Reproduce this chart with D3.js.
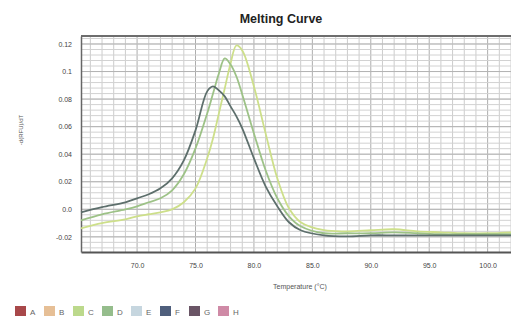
<!DOCTYPE html>
<html>
<head>
<meta charset="utf-8">
<script src="https://cdn.jsdelivr.net/npm/d3@7"></script>
<style>
  body { margin: 0; background: #fff; }
  svg { display: block; font-family: "Liberation Sans", Arial, sans-serif; }
</style>
</head>
<body>
<div id="chart"></div>
<script>
// Melting curve, -d(RFU)/dT against temperature
const temps = [65.2, 67, 69, 70, 71, 72, 73, 74, 75, 76, 76.5, 77, 77.5, 78, 78.5,
  79, 80, 81, 82, 83, 84, 86, 88, 90, 92, 94, 96, 98, 100, 102];

const wellC = [-0.0138, -0.0101, -0.0073, -0.0051, -0.0036, -0.0022, 0.0, 0.0051, 0.0152, 0.037,
  0.0515, 0.0696, 0.0877, 0.1059, 0.1189, 0.1153, 0.0892, 0.0551, 0.0225, 0.0007,
  -0.0094, -0.0152, -0.016, -0.0152, -0.0145, -0.016, -0.0167, -0.0174, -0.0174, -0.0167];

const wellD = [-0.008, -0.0036, 0.0, 0.0022, 0.0051, 0.008, 0.0138, 0.0254, 0.0442, 0.0696,
  0.0841, 0.0986, 0.1095, 0.1051, 0.0964, 0.0834, 0.0551, 0.0283, 0.008, -0.0051,
  -0.0123, -0.0174, -0.0174, -0.0174, -0.0167, -0.0174, -0.0181, -0.0181, -0.0181, -0.0181];

const wellG = [-0.0022, 0.0015, 0.0051, 0.008, 0.0109, 0.0152, 0.0225, 0.0355, 0.0573, 0.0856,
  0.0892, 0.0863, 0.082, 0.0747, 0.0675, 0.0588, 0.037, 0.0167, 0.0022, -0.0094,
  -0.0152, -0.0189, -0.0196, -0.0189, -0.0189, -0.0189, -0.0189, -0.0189, -0.0189, -0.0189];

const xTicks = [70, 75, 80, 85, 90, 95, 100];
const xTickLabels = ["70.0", "75.0", "80.0", "85.0", "90.0", "95.0", "100.0"];
const yTicks = [-0.02, 0.0, 0.02, 0.04, 0.06, 0.08, 0.1, 0.12];
const yTickLabels = ["-0.02", "0.0", "0.02", "0.04", "0.06", "0.08", "0.1", "0.12"];

const legendNames = ["A", "B", "C", "D", "E", "F", "G", "H"];
const legendColors = ["#a8484a", "#e6bf96", "#bcd98c", "#95bd8c", "#c6d6df", "#4f5f7c", "#6a5566", "#cf8aa6"];

const series = [
  { name: "C", values: wellC, color: "#cddf8a" },
  { name: "D", values: wellD, color: "#9dc287" },
  { name: "G", values: wellG, color: "#5d6f6c" }
];

const W = 511, H = 320;
const margin = { top: 36, right: 0, bottom: 68, left: 81 };
const innerW = W - margin.left - margin.right;
const innerH = H - margin.top - margin.bottom;

const svg = d3.select("#chart").append("svg")
  .attr("width", W)
  .attr("height", H);

const x = d3.scaleLinear().domain([65.2, 102]).range([0, innerW]);
const y = d3.scaleLinear().domain([-0.031, 0.1258]).range([innerH, 0]);

const g = svg.append("g").attr("transform", `translate(${margin.left},${margin.top})`);

// minor grid: 1 degree and 0.004 steps
const xMinor = d3.range(66, 103, 1);
const yMinor = d3.range(-0.028, 0.126, 0.004);

g.append("g").selectAll("line").data(xMinor).join("line")
  .attr("x1", d => x(d)).attr("x2", d => x(d))
  .attr("y1", 0).attr("y2", innerH)
  .attr("stroke", d => d % 5 === 0 ? "#adadad" : "#cccccc")
  .attr("stroke-width", 1);

g.append("g").selectAll("line").data(yMinor).join("line")
  .attr("x1", 0).attr("x2", innerW)
  .attr("y1", d => y(d)).attr("y2", d => y(d))
  .attr("stroke", "#d2d2d2")
  .attr("stroke-width", 1);

g.append("g").selectAll("line").data(yTicks).join("line")
  .attr("x1", 0).attr("x2", innerW)
  .attr("y1", d => y(d)).attr("y2", d => y(d))
  .attr("stroke", "#b3b3b3")
  .attr("stroke-width", 1);

// frame
g.append("line").attr("x1", 0).attr("x2", innerW).attr("y1", 0).attr("y2", 0)
  .attr("stroke", "#6d6d6d").attr("stroke-width", 2);

// axes
const xAxis = g.append("g")
  .attr("transform", `translate(0,${innerH})`)
  .call(d3.axisBottom(x).tickValues(xTicks).tickSize(0).tickPadding(11)
    .tickFormat((d, i) => xTickLabels[i]));
xAxis.select(".domain").attr("stroke", "#555").attr("stroke-width", 2);
xAxis.selectAll("text").attr("font-size", 7).attr("fill", "#444");

const yAxis = g.append("g")
  .call(d3.axisLeft(y).tickValues(yTicks).tickSize(0).tickPadding(9)
    .tickFormat((d, i) => yTickLabels[i]));
yAxis.select(".domain").attr("stroke", "#666").attr("stroke-width", 1.5);
yAxis.selectAll("text").attr("font-size", 7).attr("fill", "#444");

// curves
const line = d3.line()
  .x((d, i) => x(temps[i]))
  .y(d => y(d))
  .curve(d3.curveCatmullRom);

g.append("g").selectAll("path").data(series).join("path")
  .attr("d", d => line(d.values))
  .attr("fill", "none")
  .attr("stroke", d => d.color)
  .attr("stroke-width", 1.8);

// titles
svg.append("text")
  .attr("x", 281).attr("y", 23)
  .attr("text-anchor", "middle")
  .attr("font-size", 12.5).attr("font-weight", "bold")
  .attr("fill", "#222")
  .text("Melting Curve");

svg.append("text")
  .attr("x", 300).attr("y", 289)
  .attr("text-anchor", "middle")
  .attr("font-size", 7).attr("fill", "#555")
  .text("Temperature (°C)");

svg.append("text")
  .attr("transform", "translate(23,130) rotate(-90)")
  .attr("text-anchor", "middle")
  .attr("font-size", 6).attr("fill", "#555")
  .text("-d(RFU)/dT");

// legend
const legend = svg.append("g").attr("transform", "translate(15,306)");
const item = legend.selectAll("g").data(legendNames).join("g")
  .attr("transform", (d, i) => `translate(${i * 29},0)`);
item.append("rect")
  .attr("width", 11).attr("height", 10)
  .attr("fill", (d, i) => legendColors[i]);
item.append("text")
  .attr("x", 15).attr("y", 8.5)
  .attr("font-size", 8).attr("fill", "#666")
  .text(d => d);
</script>
</body>
</html>
